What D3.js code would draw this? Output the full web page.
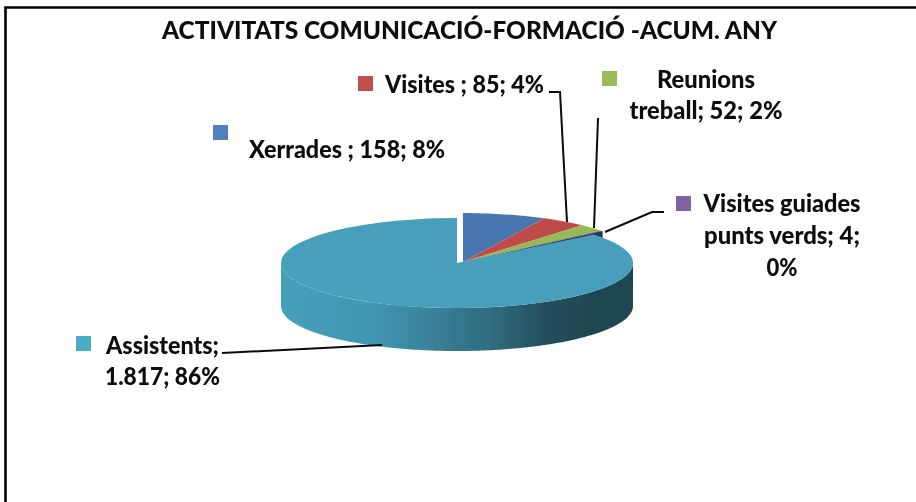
<!DOCTYPE html>
<html><head><meta charset="utf-8">
<script src="https://cdn.jsdelivr.net/npm/d3@7"></script>
<style>html,body{margin:0;padding:0;background:#fff}svg{display:block}text{font-family:Lato,sans-serif;font-weight:900;fill:#0b0b0b}</style>
</head><body><svg id="c" width="916" height="502"></svg>
<script>
const titleText = "ACTIVITATS COMUNICACIÓ-FORMACIÓ -ACUM. ANY";
const categories = ["Xerrades","Visites","Reunions treball","Visites guiades punts verds","Assistents"];
const values = [158,85,52,4,1817];
const colors = ["#4F81BD","#C0504D","#9BBB59","#8064A2","#4BACC6"];
const faceColors = ["#4676B0","#BE4B48","#97B856","#3A3566","#469FBB"];
const labelLines = [["Xerrades ; 158; 8%"],["Visites ; 85; 4%"],["Reunions","treball; 52; 2%"],["Visites guiades","punts verds; 4;","0%"],["Assistents;","1.817; 86%"]];

// layout (not data)
const labelLayout = [
  {sq:[213,125],x:347,y:[158],w:[196]},
  {sq:[358,76],x:464.5,y:[93],w:[159]},
  {sq:[602,71],x:706,y:[88,119],w:[98,153]},
  {sq:[676,196],x:782,y:[212,244,276],w:[157,156,31]},
  {sq:[76,336],x:162.5,y:[354,385],w:[113,115]}
];
const leaders = [null,
  [[549,92],[560,92],[567,222]],
  [[598,118],[594,228]],
  [[664,212],[652,212],[605,232]],
  [[222,353],[382,345]]];
const main = {cx:457,cy:263,rx:176,ry:45};
const exploded = {cx:463,cy:262,rx:180,ry:49};
const depth = 43;

const svg = d3.select("#c");
const defs = svg.append("defs");
defs.append("filter").attr("id","soft").append("feGaussianBlur").attr("stdDeviation",0.7);
defs.append("filter").attr("id","softT").append("feGaussianBlur").attr("stdDeviation",0.35);
const grad = defs.append("linearGradient").attr("id","side").attr("gradientUnits","userSpaceOnUse")
  .attr("x1",main.cx-main.rx).attr("x2",main.cx+main.rx).attr("y1",0).attr("y2",0);
[[0,"#459FBB"],[0.25,"#4297B2"],[0.42,"#3A8299"],[0.6,"#2F6B7F"],[0.75,"#244F5D"],[0.88,"#1F4651"],[1,"#1F4651"]]
  .forEach(s=>grad.append("stop").attr("offset",s[0]).attr("stop-color",s[1]));

// frame
svg.append("path").attr("d","M5.5,502V7.5H916").attr("fill","none").attr("stroke","#000").attr("stroke-width",2.6);

// title
svg.append("text").attr("x",469.5).attr("y",39).attr("text-anchor","middle").attr("font-size",25)
  .attr("textLength",615).attr("lengthAdjust","spacingAndGlyphs").text(titleText);

const arcs = d3.pie().sort(null).value(d=>d).startAngle(0).endAngle(2*Math.PI)(values);
const g = svg.append("g").attr("filter","url(#soft)");
const unit = d3.arc().innerRadius(0).outerRadius(1);
const ptX = (e,a)=>e.cx+e.rx*Math.sin(a), ptY=(e,a)=>e.cy-e.ry*Math.cos(a);

// small slices' cut face, then faces
const smalls = arcs.slice(0,4);
const lastEnd = smalls[3].endAngle;
g.append("path").attr("fill","#2C3158").attr("d",d3.line()([
  [exploded.cx,exploded.cy],[ptX(exploded,lastEnd),ptY(exploded,lastEnd)],
  [ptX(exploded,lastEnd),ptY(exploded,lastEnd)+depth*0.2],[exploded.cx,exploded.cy+depth*0.2]]));
g.selectAll("path.small").data(smalls).join("path").attr("class","small")
  .attr("transform",`translate(${exploded.cx},${exploded.cy}) scale(${exploded.rx},${exploded.ry})`)
  .attr("d",unit).attr("fill",(d,i)=>faceColors[i]);

// side wall of the large slice: visible lower half
const big = arcs[4];
const sideAngles = d3.range(Math.PI/2,3*Math.PI/2+0.001,Math.PI/180);
g.append("path").attr("fill","url(#side)").attr("d",d3.area()
  .x(a=>ptX(main,a)).y0(a=>ptY(main,a)).y1(a=>ptY(main,a)+depth)(sideAngles));
g.append("path").attr("transform",`translate(${main.cx},${main.cy}) scale(${main.rx},${main.ry})`)
  .attr("d",unit(big)).attr("fill",faceColors[4]);

// leaders
svg.selectAll("path.lead").data(leaders.filter(Boolean)).join("path").attr("class","lead")
  .attr("d",d3.line()).attr("fill","none").attr("stroke","#0b0b0b").attr("stroke-width",2);

// labels
const lab = svg.selectAll("g.lab").data(categories).join("g").attr("class","lab");
lab.append("rect").attr("x",(d,i)=>labelLayout[i].sq[0]).attr("y",(d,i)=>labelLayout[i].sq[1])
  .attr("width",15).attr("height",15).attr("fill",(d,i)=>colors[i]);
lab.each(function(d,i){
  const L = labelLayout[i];
  d3.select(this).selectAll("text").data(labelLines[i]).join("text")
    .attr("x",L.x).attr("y",(t,j)=>L.y[j]).attr("text-anchor","middle").attr("font-size",24)
    .attr("textLength",(t,j)=>L.w[j]).attr("lengthAdjust","spacingAndGlyphs").text(t=>t);
});
svg.selectAll("text").attr("filter","url(#softT)");
</script></body></html>
